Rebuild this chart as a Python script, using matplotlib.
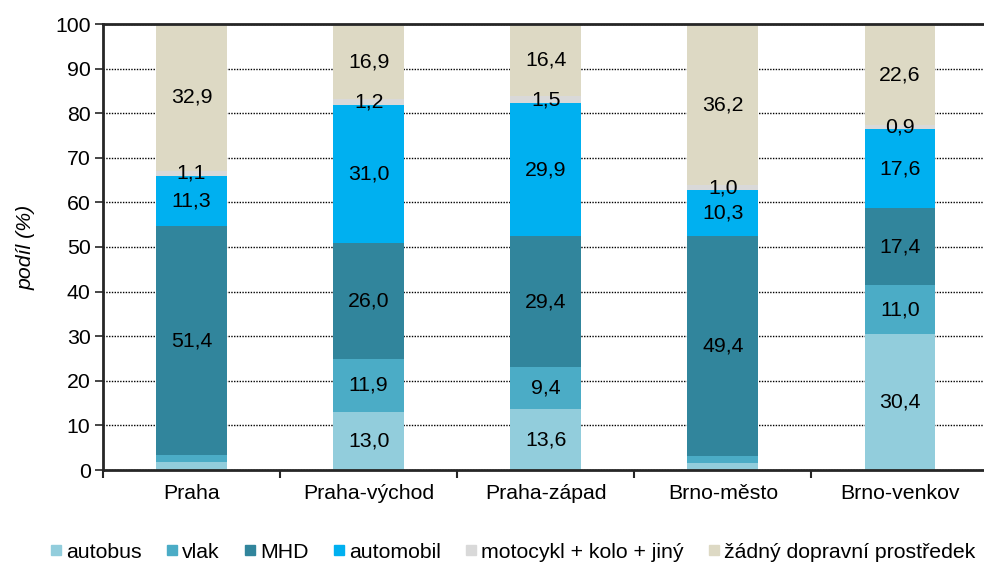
import matplotlib
matplotlib.use("Agg")
import matplotlib.pyplot as plt
import numpy as np
from matplotlib.lines import Line2D

plt.rcParams['font.family'] = ['Liberation Sans', 'DejaVu Sans']

categories = ["Praha", "Praha-východ", "Praha-západ", "Brno-město", "Brno-venkov"]
series_names = ["autobus", "vlak", "MHD", "automobil", "motocykl + kolo + jiný", "žádný dopravní prostředek"]
autobus = [1.7, 13.0, 13.6, 1.6, 30.4]
vlak = [1.6, 11.9, 9.4, 1.5, 11.0]
mhd = [51.4, 26.0, 29.4, 49.4, 17.4]
automobil = [11.3, 31.0, 29.9, 10.3, 17.6]
moto = [1.1, 1.2, 1.5, 1.0, 0.9]
zadny = [32.9, 16.9, 16.4, 36.2, 22.6]
series = [autobus, vlak, mhd, automobil, moto, zadny]
colors = ["#92CDDC", "#4BACC6", "#31859C", "#00B0F0", "#D9D9D9", "#DDD9C4"]
yticks = [0, 10, 20, 30, 40, 50, 60, 70, 80, 90, 100]

FS = 15.3

fig = plt.figure(figsize=(9.84, 5.63), dpi=100)
ax = fig.add_axes([103/984, (563-470)/563, (988.5-103)/984, (470-24)/563])

x = np.arange(len(categories))
bottom = np.zeros(len(categories))
for vals, col, name in zip(series, colors, series_names):
    vals = np.array(vals)
    ax.bar(x, vals, width=0.4, bottom=bottom, color=col, label=name, zorder=2)
    for xi, v, b in zip(x, vals, bottom):
        if v >= 0.8 and not (v < 2 and name in ("autobus", "vlak")):
            ax.text(xi, b + v/2, f"{v:.1f}".replace(".", ","), ha="center", va="center",
                    fontsize=FS, color="black", zorder=3)
    bottom += vals

ax.set_xlim(-0.5, len(categories) - 0.5)
ax.set_ylim(0, 100)
ax.set_yticks(yticks)
ax.set_yticklabels([str(t) for t in yticks], fontsize=FS)
ax.yaxis.grid(True, linestyle=(0, (1, 1)), color="black", linewidth=1.0, zorder=0)
ax.set_axisbelow(True)
ax.axhline(100, color="#262626", linewidth=2, zorder=4, clip_on=False)

ax.set_xticks(x)
ax.set_xticklabels(categories, fontsize=FS)
ax.tick_params(axis="x", length=0, pad=10)
ax.set_xticks(np.arange(len(categories)) - 0.5, minor=True)
ax.tick_params(axis="x", which="minor", length=6, width=1.5, color="#262626", direction="out")
ax.tick_params(axis="y", length=6, width=1.2, color="#262626", direction="out", pad=3)

for s in ["top", "right"]:
    ax.spines[s].set_visible(False)
for s in ["left", "bottom"]:
    ax.spines[s].set_color("#262626")
    ax.spines[s].set_linewidth(2)

ax.set_ylabel("podíl (%)", fontsize=FS, fontstyle="italic", labelpad=14)

handles = [Line2D([0], [0], marker="s", linestyle="none", markersize=7.5,
                  markerfacecolor=c, markeredgecolor=c) for c in colors]
fig.legend(handles, series_names, loc="center", bbox_to_anchor=(513/984, 1 - 552/563),
           ncol=6, frameon=False, fontsize=FS, handlelength=0.5, handletextpad=0.25,
           columnspacing=1.15, borderaxespad=0, borderpad=0)

fig.savefig("out.png", dpi=100)
